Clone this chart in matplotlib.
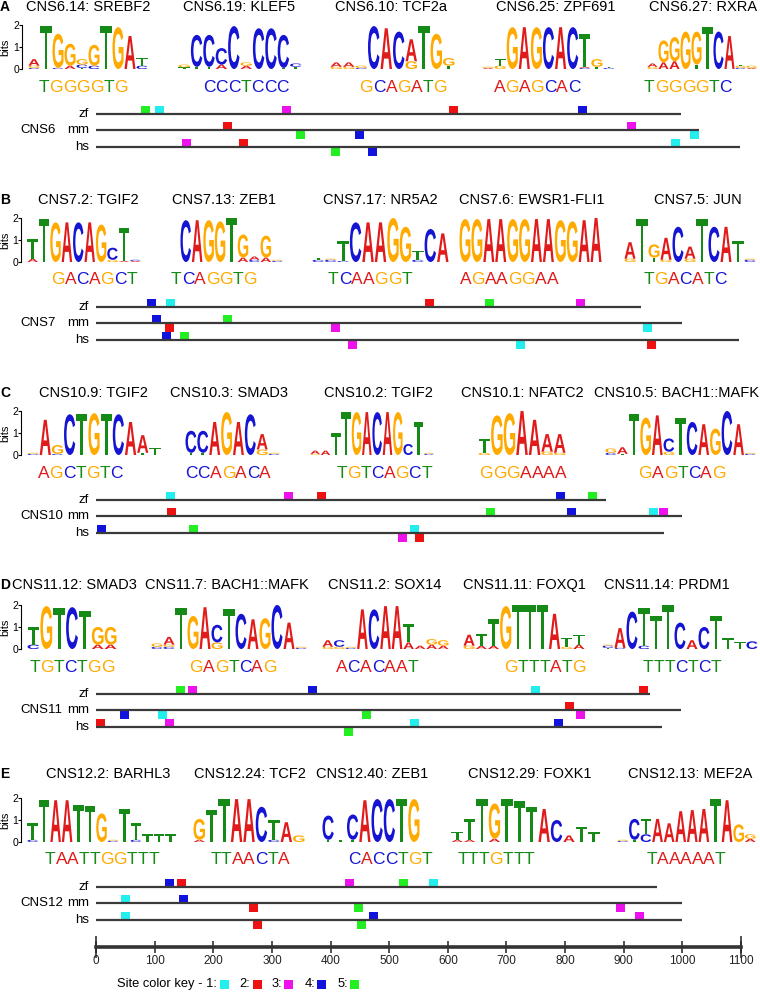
import numpy as np
import matplotlib.pyplot as plt
from matplotlib.textpath import TextPath, text_to_path
from matplotlib.patches import PathPatch, Rectangle
from matplotlib.font_manager import FontProperties
from matplotlib.transforms import Affine2D

plt.rcParams['font.family'] = ['Liberation Sans', 'DejaVu Sans']

# ---------------- data ----------------
panel_letters = ['A', 'B', 'C', 'D', 'E']
cns_names = ['CNS6', 'CNS7', 'CNS10', 'CNS11', 'CNS12']
species = ['zf', 'mm', 'hs']

titles = [
    ['CNS6.14: SREBF2', 'CNS6.19: KLEF5', 'CNS6.10: TCF2a', 'CNS6.25: ZPF691', 'CNS6.27: RXRA'],
    ['CNS7.2: TGIF2', 'CNS7.13: ZEB1', 'CNS7.17: NR5A2', 'CNS7.6: EWSR1-FLI1', 'CNS7.5: JUN'],
    ['CNS10.9: TGIF2', 'CNS10.3: SMAD3', 'CNS10.2: TGIF2', 'CNS10.1: NFATC2', 'CNS10.5: BACH1::MAFK'],
    ['CNS11.12: SMAD3', 'CNS11.7: BACH1::MAFK', 'CNS11.2: SOX14', 'CNS11.11: FOXQ1', 'CNS11.14: PRDM1'],
    ['CNS12.2: BARHL3', 'CNS12.24: TCF2', 'CNS12.40: ZEB1', 'CNS12.29: FOXK1', 'CNS12.13: MEF2A'],
]

consensus = [
    ['TGGGGTG', 'CCCTCCC', 'GCAGATG', 'AGAGCAC', 'TGGGGTC'],
    ['GACAGCT', 'TCAGGTG', 'TCAAGGT', 'AGAAGGAA', 'TGACATC'],
    ['AGCTGTC', 'CCAGACA', 'TGTCAGCT', 'GGGAAAA', 'GAGTCAG'],
    ['TGTCTGG', 'GAGTCAG', 'ACACAAT', 'GTTTATG', 'TTTCTCT'],
    ['TAATTGGTTT', 'TTAACTA', 'CACCTGT', 'TTTGTTT', 'TAAAAAT'],
]

# logo columns, letters listed bottom -> top with height in bits
logos_6 = [
    ["C.05 G.1 A.3", "T1.95", "C.05 G1.55", "A.15 G1.0", "T.05 C.15 G.25", "C.15 G.95", "T1.95", "G1.9", "A1.5", "C.15 T.35"],
    ["T.08 G.12", "T.1 C1.45", "T.1 C1.45", "A.2 C.75", "C1.95", "A.15 G.15", "C1.85", "C1.85", "T.05 C1.5", "T.1 C.15"],
    ["G.1 A.2", "G.1 A.2", "C.05 G.1", "C1.95", "A1.85", "C1.7", "G.35 A1.0", "T1.95", "G1.6", "T.15 G.35"],
    ["A.05 G.05", "G.15 T.3", "G1.9", "A1.9", "G1.9", "C1.9", "A1.9", "C1.9", "C.05 A.05 T1.5", "T.1 G.35", "C.05 T.05"],
    ["G.1 A.15", "A.3 G1.0", "A.35 G1.1", "G1.7", "T.2 G1.5", "T1.9", "C1.7", "A1.5", "C.05 G.1 T.05", "A.05 G.1"],
]
logos_7 = [
    ["A.15 T.9", "T1.95", "G1.8", "A1.8", "C1.8", "A1.8", "G1.7", "G.1 C.55", "A.05 T1.5", "A.05 C.05"],
    ["C1.9", "A1.9", "G1.9", "G1.85", "T2.0", "A.2 G1.05", "C.1 A.15", "A.2 G1.0", "C.05 G.05"],
    ["C.1 T.1", "C.1 G.05", "C.05 T.9", "C1.8", "A1.8", "A1.8", "G2.0", "G1.6", "C.1 T.4", "C1.5", "A1.3"],
    ["G1.95", "G1.95", "A1.95", "A1.95", "G1.95", "G1.95", "A1.95", "A1.95", "G1.9", "G1.85", "A1.9", "A2.0"],
    ["G.15 A.75", "T1.95", "T.2 G.6", "G.1 A1.0", "C1.6", "G.15 A.55", "T1.95", "C1.6", "A1.6", "T.95", "C.1 G.05"],
]
logos_10 = [
    ["C.05 G.05", "A1.6", "C.05 G.4", "C1.85", "T1.85", "G1.9", "T1.85", "C1.85", "A1.5", "T.1 A.8", "T.3"],
    ["T.1 C1.0", "T.1 C1.0", "A1.5", "G1.95", "A1.5", "C1.85", "G.25 A.7", "C.05 G.05"],
    ["G.05 A.15", "A.2", "T1.0", "T1.95", "G1.95", "A1.95", "C1.95", "A1.95", "G1.95", "C.5", "T1.5", "C.05 G.05"],
    ["G.1 T.65", "G1.8", "G1.9", "A2.0", "A1.6", "G.15 A.8", "G.1 A.85"],
    ["C.1 G.2", "T.05 A.3", "T1.85", "G1.7", "A1.8", "G.15 C.6", "T1.7", "C1.5", "A1.4", "G1.2", "C2.0", "A1.4", "C.05 G.05"],
]
logos_11 = [
    ["C.2 T.8", "G1.95", "T1.85", "C1.9", "T1.75", "A.2 G.8", "A.2 G.8"],
    ["C.1 G.15", "C.1 G.1 A.35", "T1.85", "G1.5", "A1.9", "G.3 C.8", "T1.8", "C1.6", "A1.35", "G1.4", "C2.0", "A1.2", "C.05 G.05"],
    ["G.1 A.3", "G.1 C.3", "C.05 G.05", "A1.8", "C1.8", "A1.95", "A1.95", "A.3 T.85", "A.15", "A.2 G.25", "A.15 G.25"],
    ["G.15 A.5", "A.15 T.55", "A.15 T1.2", "G1.95", "T2.0", "T2.0", "T2.0", "A1.6", "G.1 T.4", "A.2 T.45"],
    ["T.05 C.1 G.05", "C.05 A.9", "C1.7", "C.15 T1.7", "T1.5", "T2.0", "C1.2", "A.4", "C1.0", "T1.5", "T.5", "T.3", "C.35"],
]
logos_12 = [
    ["C.1 T.75", "T1.9", "A1.9", "A1.9", "T1.7", "T1.65", "G1.3", "C.05 G.05", "T1.5", "C.1 T.75", "T.35", "T.35", "T.35"],
    ["A.1 G.95", "T1.45", "T1.95", "A1.95", "A1.95", "C1.6", "C.1 T.9", "A.9", "G.3"],
    ["T.1 C1.1", "T.1", "T.1 C1.15", "A1.9", "C1.95", "C1.95", "T1.95", "G1.95"],
    ["A.1 T.35", "A.1 T.95", "T1.95", "A.15 G1.6", "T1.95", "T1.85", "T1.6", "A1.5", "C1.0", "A.3", "T.7", "T.45"],
    ["C.05 G.05", "T.1 C.95", "C.35 T.7", "A1.05", "A.85", "A1.4", "A1.45", "A1.5", "T1.95", "A1.9", "G.8", "A.15 G.2"],
]
logos = [logos_6, logos_7, logos_10, logos_11, logos_12]

# sequence lengths (bp) for zf, mm, hs
line_len = [[998, 1028, 1098], [930, 999, 1097], [870, 999, 968], [944, 998, 966], [957, 1000, 1000]]

# sites: (position bp, site key 1-5, strand +1 above / -1 below)
sites_6 = {'zf': [(84, 5, 1), (108, 1, 1), (325, 3, 1), (610, 2, 1), (830, 4, 1)],
           'mm': [(225, 2, 1), (348, 5, -1), (449, 4, -1), (914, 3, 1), (1020, 1, -1)],
           'hs': [(155, 3, 1), (252, 2, 1), (408, 5, -1), (472, 4, -1), (989, 1, 1)]}
sites_7 = {'zf': [(94, 4, 1), (127, 1, 1), (568, 2, 1), (671, 5, 1), (827, 3, 1)],
           'mm': [(104, 4, 1), (126, 2, -1), (224, 5, 1), (409, 3, -1), (940, 1, -1)],
           'hs': [(121, 4, 1), (151, 5, 1), (438, 3, -1), (724, 1, -1), (948, 2, -1)]}
sites_10 = {'zf': [(127, 1, 1), (329, 3, 1), (384, 2, 1), (793, 4, 1), (847, 5, 1)],
            'mm': [(129, 2, 1), (673, 5, 1), (811, 4, 1), (951, 1, 1), (968, 3, 1)],
            'hs': [(9, 4, 1), (166, 5, 1), (543, 1, 1), (523, 3, -1), (552, 2, -1)]}
sites_11 = {'zf': [(144, 5, 1), (165, 3, 1), (369, 4, 1), (749, 1, 1), (934, 2, 1)],
            'mm': [(48, 4, -1), (113, 1, -1), (462, 5, -1), (808, 2, 1), (827, 3, -1)],
            'hs': [(8, 2, 1), (126, 3, 1), (544, 1, 1), (788, 4, 1), (430, 5, -1)]}
sites_12 = {'zf': [(125, 4, 1), (145, 2, 1), (432, 3, 1), (525, 5, 1), (576, 1, 1)],
            'mm': [(51, 1, 1), (149, 4, 1), (269, 2, -1), (448, 5, -1), (895, 3, -1)],
            'hs': [(50, 1, 1), (473, 4, 1), (927, 3, 1), (275, 2, -1), (452, 5, -1)]}
sites = [sites_6, sites_7, sites_10, sites_11, sites_12]

scale_ticks = np.arange(0, 1101, 100)
site_keys = [1, 2, 3, 4, 5]

# ---------------- style / layout ----------------
BASE_COL = {'A': '#e01b1b', 'C': '#1414d2', 'G': '#ffaa00', 'T': '#168a16'}
SITE_COL = {1: '#22eeee', 2: '#ee1111', 3: '#ee11ee', 4: '#1212dd', 5: '#22ee22'}

W, H = 760, 992
BP0_PX = 96
PX_PER_BP = 645 / 1100
panel_off = [0, 193, 386, 580, 773]
title_y = [7, 200, 393, 585, 774]
LOGO_BOT, LOGO_H = 69, 44
CONS_Y = 87
track_y = {'zf': 114, 'mm': 130, 'hs': 147}
SQ_W, SQ_H = 9, 8

logo_span = [
    [(28, 148), (178, 302), (330, 455), (482, 615), (647, 757)],
    [(27, 141), (180, 283), (312, 449), (459, 602), (624, 756)],
    [(27, 161), (185, 280), (310, 434), (478, 566), (605, 756)],
    [(27, 117), (151, 307), (322, 449), (463, 585), (602, 758)],
    [(27, 176), (193, 305), (322, 420), (451, 600), (617, 756)],
]
title_x = [[88, 239, 391, 556, 703], [88, 224, 380, 532, 698], [93, 229, 378, 522, 677],
           [74, 227, 385, 524, 667], [108, 250, 372, 530, 690]]
cons_x = [[83, 246, 403, 537, 688], [94, 214, 370, 509, 685], [80, 228, 384, 523, 682],
          [72, 233, 377, 545, 682], [102, 250, 390, 496, 686]]

fp_logo = FontProperties(family='Liberation Sans', weight='bold')
GLYPH = {ch: TextPath((0, 0), ch, size=1, prop=fp_logo) for ch in 'ACGT'}
fp_cons = FontProperties(family='Liberation Sans', size=12.5)


def draw_logo(axl, cols):
    for i, col in enumerate(cols):
        y = 0.0
        for tok in col.split():
            ch, h = tok[0], float(tok[1:])
            g = GLYPH[ch]
            bb = g.get_extents()
            tr = Affine2D().translate(-bb.x0, -bb.y0).scale(0.92 / bb.width, h / bb.height).translate(i + 0.04, y)
            axl.add_patch(PathPatch(tr.transform_path(g), fc=BASE_COL[ch], ec='none', lw=0))
            y += h


def char_w(ch):
    w, _, _ = text_to_path.get_text_width_height_descent(ch, fp_cons, ismath=False)
    return w * 100 / 72


fig = plt.figure(figsize=(W / 100, H / 100), dpi=100)
pax = fig.add_axes([0, 0, 1, 1])
pax.set_xlim(0, W)
pax.set_ylim(H, 0)
pax.axis('off')
tax = fig.add_axes([0, 0, 1, 1])
tax.set_xlim(-BP0_PX / PX_PER_BP, (W - BP0_PX) / PX_PER_BP)
tax.set_ylim(H, 0)
tax.axis('off')

sq_w_bp = SQ_W / PX_PER_BP
for k in range(5):
    off = panel_off[k]
    ty = title_y[k]
    pax.text(0, ty, panel_letters[k], ha='left', va='center', fontsize=10, fontweight='bold')
    for j in range(5):
        pax.text(title_x[k][j], ty, titles[k][j], ha='center', va='center', fontsize=10.5)
        # logo
        l, r = logo_span[k][j]
        axl = fig.add_axes([l / W, 1 - (off + LOGO_BOT) / H, (r - l) / W, LOGO_H / H])
        cols = logos[k][j]
        axl.set_xlim(0, len(cols))
        axl.set_ylim(0, 2)
        draw_logo(axl, cols)
        if j == 0:
            for s in ['top', 'right', 'bottom']:
                axl.spines[s].set_visible(False)
            axl.spines['left'].set_position(('outward', 4))
            axl.spines['left'].set_linewidth(0.8)
            axl.set_xticks([])
            axl.set_yticks([0, 1, 2])
            axl.tick_params(axis='y', labelsize=7.5, length=2, width=0.8, pad=0.5)
            axl.patch.set_visible(False)
            pax.text(0.5, off + LOGO_BOT - LOGO_H / 2, 'bits', rotation=90, ha='left', va='center', fontsize=8)
        else:
            axl.axis('off')
        # consensus, letter by letter
        seq = consensus[k][j]
        widths = [char_w(c) for c in seq]
        x = cons_x[k][j] - sum(widths) / 2
        for c, w in zip(seq, widths):
            pax.text(x, off + CONS_Y, c, ha='left', va='center', color=BASE_COL[c], fontproperties=fp_cons)
            x += w
    # tracks
    for s, sp in enumerate(species):
        y = off + track_y[sp]
        tax.plot([0, line_len[k][s]], [y, y], color='#3a3a3a', lw=1.6, solid_capstyle='butt')
        pax.text(89, y, sp, ha='right', va='center', fontsize=9.5)
        for bp, key, strand in sites[k][sp]:
            y0 = y - SQ_H - 0.5 if strand > 0 else y + 0.5
            tax.add_patch(Rectangle((bp - sq_w_bp / 2, y0), sq_w_bp, SQ_H, fc=SITE_COL[key], ec='none'))
    pax.text(20, off + track_y['mm'], cns_names[k], ha='left', va='center', fontsize=9.5)

# scale bar
sax = fig.add_axes([BP0_PX / W, 1 - 947 / H, 645 / W, 1e-4])
sax.set_xlim(0, 1100)
for s in ['left', 'right', 'top']:
    sax.spines[s].set_visible(False)
sax.spines['bottom'].set_linewidth(2.6)
sax.spines['bottom'].set_color('#333333')
sax.set_yticks([])
sax.set_xticks(scale_ticks)
sax.xaxis.remove_overlapping_locs = False
sax.set_xticks([scale_ticks[0], scale_ticks[-1]], minor=True)
sax.tick_params(axis='x', which='major', direction='inout', length=9, width=1.1, labelsize=8.5, pad=1, colors='#222222')
sax.tick_params(axis='x', which='minor', direction='inout', length=16, width=1.1, colors='#222222')
sax.patch.set_visible(False)

# site colour key
KEY_Y = 984
pax.text(117, KEY_Y, 'Site color key - 1:', ha='left', va='center', fontsize=9.3)
key_label_x = [None, 239, 272, 305, 338]
key_sq_x = [220, 253, 284, 317, 350]
for i, key in enumerate(site_keys):
    if key_label_x[i] is not None:
        pax.text(key_label_x[i], KEY_Y, f'{key}:', ha='left', va='center', fontsize=9.3)
    pax.add_patch(Rectangle((key_sq_x[i], KEY_Y - 4.5), 9, 9, fc=SITE_COL[key], ec='none'))

fig.savefig('out.png', dpi=100)
